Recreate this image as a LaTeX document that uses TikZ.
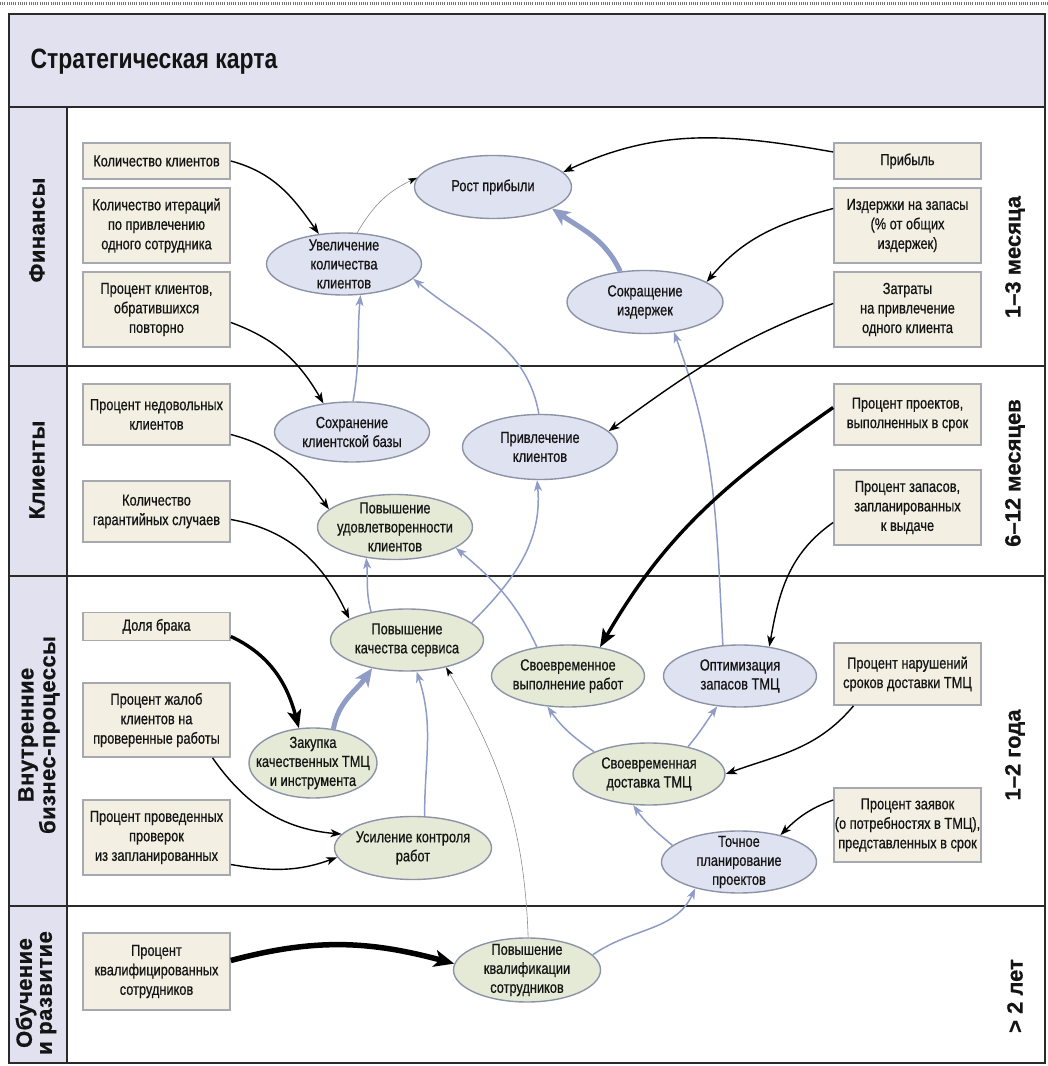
\documentclass[tikz,border=0pt]{standalone}
\usepackage{fontspec}
\setmainfont{Liberation Sans}
\newfontfamily\cond[FakeStretch=0.8,FakeBold=0.6]{Liberation Sans}
\newfontfamily\condt[FakeStretch=0.82]{Liberation Sans}
\newfontfamily\side[LetterSpace=2.0,FakeBold=0.8]{Liberation Sans}
\newfontfamily\timef[FakeBold=0.6]{Liberation Sans}
\usetikzlibrary{shapes.geometric,arrows.meta}
\definecolor{lav}{HTML}{E1E1EF}
\definecolor{boxf}{HTML}{F3EFE3}
\definecolor{boxb}{HTML}{A7A9B0}
\definecolor{bluef}{HTML}{DFE2F0}
\definecolor{greenf}{HTML}{E4EAD6}
\definecolor{ellb}{HTML}{8D93A7}
\definecolor{conb}{HTML}{8E9CC6}
\definecolor{framec}{HTML}{2A2A2A}
\definecolor{txt}{HTML}{141414}
\tikzset{
  mbox/.style={draw=boxb, fill=boxf, line width=1.7pt, minimum width=147pt, inner sep=0pt,
    align=center, text=txt, font=\cond\fontsize{16}{19.5}\selectfont},
  bell/.style={ellipse, draw=ellb, fill=bluef, line width=1.4pt, inner sep=0pt},
  gell/.style={ellipse, draw=ellb, fill=greenf, line width=1.4pt, inner sep=0pt},
  etxt/.style={align=center, inner sep=0pt, text=txt, font=\cond\fontsize{16}{19}\selectfont},
  sidelbl/.style={rotate=90, align=center, text=txt, font=\side\bfseries\fontsize{22}{20}\selectfont},
  timelbl/.style={rotate=90, text=txt, font=\timef\bfseries\fontsize{22}{24}\selectfont},
  blk/.style={draw=black, line width=1.4pt, -{Stealth[length=11pt,width=8pt,inset=3pt]}},
  blkthick/.style={draw=black, line width=3.4pt, -{Stealth[length=18pt,width=14pt,inset=4pt]}},
  blkhuge/.style={draw=black, line width=5.5pt, -{Stealth[length=20pt,width=17pt,inset=5pt]}},
  blu/.style={draw=conb, line width=1.5pt, -{Stealth[length=11pt,width=8pt,inset=3pt]}},
  bluthick/.style={draw=conb, line width=5pt, -{Stealth[length=18pt,width=16pt,inset=5pt]}},
  thinarr/.style={draw=black!45, line width=0.6pt, -{Stealth[length=9pt,width=6pt,inset=2pt,color=black]}},
  framel/.style={draw=framec, line width=2pt}
}
\begin{document}
\begin{tikzpicture}[x=1pt,y=1pt]
\useasboundingbox (0,0) rectangle (1048,1066);
% background and frame
\draw[black!55, line width=3pt, dash pattern=on 1pt off 1.2pt] (0,1062) -- (1048,1062);
\fill[lav] (9,959) rectangle (1045,1052);
\fill[lav] (9,3) rectangle (67,959);
\draw[framel] (9,3) rectangle (1045,1052);
\draw[framel] (9,959) -- (1045,959);
\draw[framel] (67,3) -- (67,959);
\draw[framel] (9,700) -- (1045,700);
\draw[framel] (9,490) -- (1045,490);
\draw[framel] (9,160) -- (1045,160);
\node[anchor=west, text=txt, font=\condt\bfseries\fontsize{28}{32}\selectfont] (title) at (27,1004) {Стратегическая карта};
% side labels
\node[sidelbl] (sFin) at (37,836) {Финансы};
\node[sidelbl] (sCli) at (37,596) {Клиенты};
\node[sidelbl] (sBiz) at (39,331) {Внутренние\\бизнес-процессы};
\node[sidelbl] (sEdu) at (36,73) {Обучение\\и развитие};
\node[timelbl] (t1) at (1015,809) {1–3 месяца};
\node[timelbl] (t2) at (1015,593) {6–12 месяцев};
\node[timelbl] (t3) at (1015,311) {1–2 года};
\node[timelbl] (t4) at (1015,70) {> 2 лет};
% left boxes
\node[mbox, minimum height=36pt] (k1) at (156.5,905) {Количество клиентов};
\node[mbox, minimum height=75pt] (k2) at (156.5,840.5) {Количество итераций\\по привлечению\\одного сотрудника};
\node[mbox, minimum height=75pt] (k3) at (156.5,756.5) {Процент клиентов,\\обратившихся\\повторно};
\node[mbox, minimum height=61pt] (k4) at (156.5,651.5) {Процент недовольных\\клиентов};
\node[mbox, minimum height=61pt] (k5) at (156.5,554.5) {Количество\\гарантийных случаев};
\node[mbox, minimum height=28pt] (k6) at (156.5,439.5) {Доля брака};
\node[mbox, minimum height=74pt] (k7) at (156.5,346) {Процент жалоб\\клиентов на\\проверенные работы};
\node[mbox, minimum height=75pt] (k8) at (156.5,228.5) {Процент проведенных\\проверок\\из запланированных};
\node[mbox, minimum height=77pt] (k9) at (156.5,94.5) {Процент\\квалифицированных\\сотрудников};
% right boxes
\node[mbox, minimum height=36pt] (r1) at (907.5,905) {Прибыль};
\node[mbox, minimum height=75pt] (r2) at (907.5,840.5) {Издержки на запасы\\(\% от общих\\издержек)};
\node[mbox, minimum height=75pt] (r3) at (907.5,756.5) {Затраты\\на привлечение\\одного клиента};
\node[mbox, minimum height=61pt] (r4) at (907.5,651.5) {Процент проектов,\\выполненных в срок};
\node[mbox, minimum height=75pt] (r5) at (907.5,558.5) {Процент запасов,\\запланированных\\к выдаче};
\node[mbox, minimum height=62pt] (r6) at (907.5,392) {Процент нарушений\\сроков доставки ТМЦ};
\node[mbox, minimum height=74pt] (r7) at (907.5,241) {Процент заявок\\(о потребностях в ТМЦ),\\представленных в срок};
% ellipses
\node[bell, minimum width=157pt, minimum height=63pt] (e1) at (493,879) {};
\node[etxt] (e1t) at (e1) {Рост прибыли};
\node[bell, minimum width=155pt, minimum height=62pt] (e2) at (344,802) {};
\node[etxt] (e2t) at (e2) {Увеличение\\количества\\клиентов};
\node[bell, minimum width=156pt, minimum height=63pt] (e3) at (645,764) {};
\node[etxt] (e3t) at (e3) {Сокращение\\издержек};
\node[bell, minimum width=155pt, minimum height=60pt] (e4) at (352,634) {};
\node[etxt] (e4t) at (e4) {Сохранение\\клиентской базы};
\node[bell, minimum width=155pt, minimum height=65pt] (e5) at (540,619) {};
\node[etxt] (e5t) at (e5) {Привлечение\\клиентов};
\node[gell, minimum width=155pt, minimum height=65pt] (e6) at (395,539) {};
\node[etxt] (e6t) at (e6) {Повышение\\удовлетворенности\\клиентов};
\node[gell, minimum width=153pt, minimum height=62pt] (e7) at (407,426) {};
\node[etxt] (e7t) at (e7) {Повышение\\качества сервиса};
\node[gell, minimum width=153pt, minimum height=62pt] (e8) at (568,390) {};
\node[etxt] (e8t) at (e8) {Своевременное\\выполнение работ};
\node[bell, minimum width=153pt, minimum height=62pt] (e9) at (740,390) {};
\node[etxt] (e9t) at (e9) {Оптимизация\\запасов ТМЦ};
\node[gell, minimum width=128pt, minimum height=70pt] (e10) at (313,303) {};
\node[etxt] (e10t) at (e10) {Закупка\\качественных ТМЦ\\и инструмента};
\node[gell, minimum width=152pt, minimum height=62pt] (e11) at (649,292) {};
\node[etxt] (e11t) at (e11) {Своевременная\\доставка ТМЦ};
\node[gell, minimum width=157pt, minimum height=63pt] (e12) at (413,218) {};
\node[etxt] (e12t) at (e12) {Усиление контроля\\работ};
\node[bell, minimum width=155pt, minimum height=62pt] (e13) at (739,204) {};
\node[etxt] (e13t) at (e13) {Точное\\планирование\\проектов};
\node[gell, minimum width=147pt, minimum height=64pt] (e14) at (527,96) {};
\node[etxt] (e14t) at (e14) {Повышение\\квалификации\\сотрудников};
% blue connectors (objective -> objective)
\draw[thinarr] (e2.67) to[out=60,in=205] (e1.173);
\draw[bluthick] (e3.129) to[out=115,in=-35] (e1.-20);
\draw[blu] (e4.88) to[out=80,in=265] (e2.-62);
\draw[blu] (e5.92) to[out=100,in=-40] (e2.-12);
\draw[blu] (e9.119) to[out=93,in=-70] (e3.-46);
\draw[blu] (e7.15) to[out=45,in=-85] (e5.265);
\draw[blu] (e7.142) to[out=105,in=-85] (e6.227);
\draw[blu] (e8.137) to[out=115,in=-40] (e6.-19);
\draw[bluthick] (e10.59) to[out=80,in=235] (e7.219);
\draw[blu] (e12.70) to[out=90,in=-72] (e7.287);
\draw[thinarr] (e14.88) to[out=92,in=-60] (e7.-35);
\draw[blu] (e11.158) to[out=145,in=-55] (e8.236);
\draw[blu] (e11.35) to[out=50,in=235] (e9.233);
\draw[blu] (e13.166) to[out=140,in=-55] (e11.243);
\draw[blu] (e14.13) to[out=35,in=245] (e13.211);
% black connectors (measure -> objective)
\draw[blk] (k1.east) to[out=-15,in=125] (e2.130);
\draw[blk] ([yshift=-13pt]k3.east) to[out=-20,in=120] (e4.135);
\draw[blk] ([yshift=9pt]r1.west) to[out=170,in=25] (e1.12);
\draw[blk] ([yshift=17pt]r2.west) to[out=195,in=50] (e3.18);
\draw[blk] ([yshift=6pt]r3.west) to[out=200,in=36] (e5.13);
\draw[blk] ([yshift=-20pt]k4.east) to[out=-15,in=125] (e6.165);
\draw[blk] ([yshift=-8pt]k5.east) to[out=-10,in=115] (e7.160);
\draw[blkthick] ([yshift=7pt]r4.west) to[out=215,in=60] (e8.42);
\draw[blk] ([yshift=-15pt]r5.west) to[out=215,in=80] (e9.45);
\draw[blkthick] ([yshift=-10pt]k6.east) to[out=-25,in=105] (e10.112);
\draw[blk] ([xshift=56pt]k7.south) to[out=-55,in=175] (e12.169);
\draw[blk] ([yshift=-27pt]k8.east) to[out=-10,in=200] (e12.187);
\draw[blk] ([xshift=-54pt]r6.south) to[out=230,in=20] (e11.east);
\draw[blk] ([yshift=25pt]r7.west) to[out=200,in=45] (e13.33);
\draw[blkhuge] ([yshift=11pt]k9.east) to[out=15,in=165] (e14.175);
\end{tikzpicture}
\end{document}
